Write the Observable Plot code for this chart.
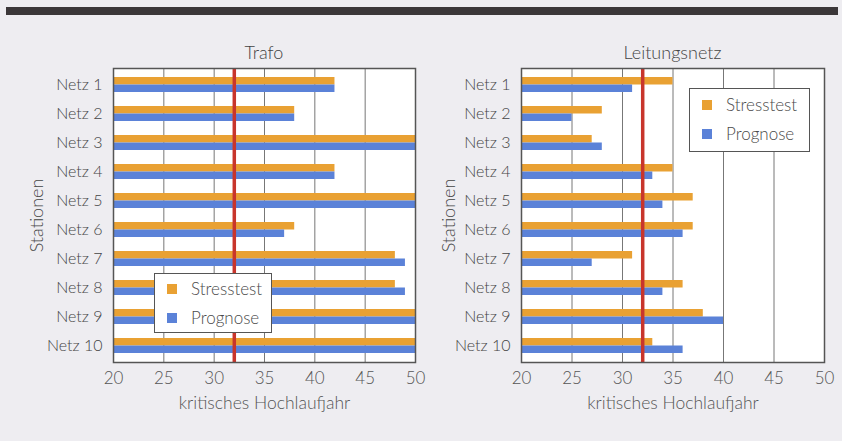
<!DOCTYPE html>
<html>
<head>
<meta charset="utf-8">
<script src="https://cdn.jsdelivr.net/npm/d3@7"></script>
<script src="https://cdn.jsdelivr.net/npm/@observablehq/plot@0.6"></script>
<style>
  html, body { margin: 0; padding: 0; background: #eeedf1; }
  #wrap { position: relative; width: 842px; height: 441px; overflow: hidden; background: #eeedf1;
          font-family: Lato, "Open Sans", sans-serif; font-weight: 300; color: #444; }
  #topbar { position: absolute; left: 6px; top: 7px; width: 832px; height: 8px; background: #3b3739; }
  .panel { position: absolute; top: 0; }
  .ptitle { position: absolute; top: 41px; font-size: 18px; color: #444; text-align: center; white-space: nowrap; }
  .legend { position: absolute; background: #fff; border: 1.5px solid #555; box-sizing: border-box; }
  .legend .item { position: absolute; left: 12px; font-size: 17px; line-height: 20px; height: 20px; display: flex; align-items: center; color: #4a4a4a; }
  .legend .sw { width: 10px; height: 10px; margin-right: 14px; }
</style>
</head>
<body>
<div id="wrap">
  <div id="topbar"></div>
</div>
<script>
const stations = ["Netz 1","Netz 2","Netz 3","Netz 4","Netz 5","Netz 6","Netz 7","Netz 8","Netz 9","Netz 10"];
const trafoStress = [42, 38, 50, 42, 50, 38, 48, 48, 50, 50];
const trafoProg   = [42, 38, 50, 42, 50, 37, 49, 49, 50, 50];
const netzStress  = [35, 28, 27, 35, 37, 37, 31, 36, 38, 33];
const netzProg    = [31, 25, 28, 33, 34, 36, 27, 34, 40, 36];
const threshold = 32;
const xTicks = [20, 25, 30, 35, 40, 45, 50];
const gridTicks = [25, 30, 35, 40, 45];
const seriesNames = ["Stresstest", "Prognose"];
const titles = ["Trafo", "Leitungsnetz"];
const xLabel = "kritisches Hochlaufjahr";
const yLabel = "Stationen";

const orange = "#e9a133";
const blue = "#5b82d8";
const red = "#c8352c";

function makePanel(stress, prog, m) {
  const dStress = stations.map((s, i) => ({station: s, v: stress[i]}));
  const dProg = stations.map((s, i) => ({station: s, v: prog[i]}));
  return Plot.plot({
    width: 421,
    height: 441,
    marginTop: 68,
    marginBottom: 79,
    marginLeft: m.left,
    marginRight: m.right,
    style: {background: "transparent", fontFamily: "Lato, 'Open Sans', sans-serif", fontSize: "16px", fontWeight: 300, color: "#444", overflow: "visible"},
    x: {domain: [xTicks[0], xTicks[xTicks.length - 1]], label: xLabel, labelArrow: "none"},
    y: {domain: stations, paddingInner: 0.49, paddingOuter: 0.23, label: yLabel, labelArrow: "none"},
    marks: [
      Plot.frame({fill: "white", stroke: "none"}),
      Plot.ruleX(gridTicks, {stroke: "#777", strokeWidth: 1}),
      Plot.barX(dStress, {x1: xTicks[0], x2: "v", y: "station", fill: orange, insetBottom: 7.5}),
      Plot.barX(dProg, {x1: xTicks[0], x2: "v", y: "station", fill: blue, insetTop: 7.5}),
      Plot.ruleX([threshold], {stroke: red, strokeWidth: 3.5}),
      Plot.frame({stroke: "#555", strokeWidth: 1.5}),
      Plot.axisX({ticks: xTicks, tickSize: 0, tickPadding: 9, fontSize: 17, fill: "#555", label: null}),
      Plot.axisX({ticks: [], tickSize: 0, fontSize: 17.5, fill: "#555",
                  label: xLabel, labelArrow: "none", labelAnchor: "center", labelOffset: 46}),
      Plot.axisY({tickSize: 0, tickPadding: 11, fontSize: 16, fill: "#444", label: null}),
      Plot.axisY({ticks: [], tickSize: 0, fontSize: 18, fill: "#444",
                  label: yLabel, labelArrow: "none", labelAnchor: "center", labelOffset: m.labelOffset})
    ]
  });
}

const wrap = document.getElementById("wrap");

function addPanel(left, stress, prog, m, title, legendPos) {
  const div = document.createElement("div");
  div.className = "panel";
  div.style.left = left + "px";
  div.appendChild(makePanel(stress, prog, m));
  wrap.appendChild(div);

  const t = document.createElement("div");
  t.className = "ptitle";
  t.textContent = title;
  const cx = left + m.left + (421 - m.left - m.right) / 2;
  t.style.left = (cx - 100) + "px";
  t.style.width = "200px";
  wrap.appendChild(t);

  const lg = document.createElement("div");
  lg.className = "legend";
  lg.style.left = legendPos.x + "px";
  lg.style.top = legendPos.y + "px";
  lg.style.width = legendPos.w + "px";
  lg.style.height = legendPos.h + "px";
  [orange, blue].forEach((c, i) => {
    const it = document.createElement("div");
    it.className = "item";
    it.style.top = (legendPos.first + i * legendPos.gap) + "px";
    const sw = document.createElement("div");
    sw.className = "sw";
    sw.style.background = c;
    it.appendChild(sw);
    const tx = document.createElement("span");
    tx.textContent = seriesNames[i];
    it.appendChild(tx);
    lg.appendChild(it);
  });
  wrap.appendChild(lg);
}

addPanel(0, trafoStress, trafoProg, {left: 113, right: 6, labelOffset: 83}, titles[0],
         {x: 154, y: 273, w: 118, h: 60, first: 5, gap: 29});
addPanel(421, netzStress, netzProg, {left: 100, right: 18, labelOffset: 79}, titles[1],
         {x: 689, y: 88, w: 121, h: 64, first: 6, gap: 29});
</script>
</body>
</html>
